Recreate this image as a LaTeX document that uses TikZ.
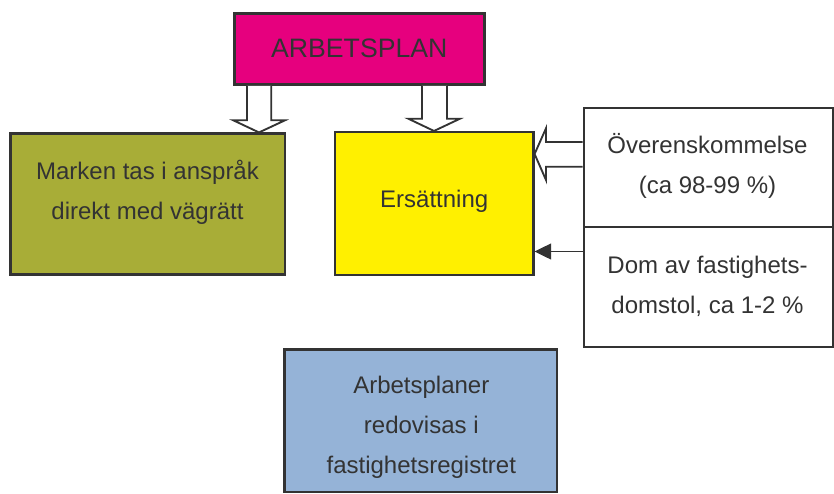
\documentclass[tikz,border=0pt]{standalone}
\usepackage{fontspec}
\setmainfont{Liberation Sans}
\usetikzlibrary{arrows.meta,calc}
\definecolor{edge}{HTML}{333333}
\definecolor{txt}{HTML}{333333}
\definecolor{magentabox}{HTML}{E6007E}
\definecolor{olivebox}{HTML}{A8AD37}
\definecolor{yellowbox}{HTML}{FFF000}
\definecolor{bluebox}{HTML}{95B3D7}
\tikzset{
  box/.style={draw=edge, line width=1.6pt, rectangle, inner sep=0pt},
  lbl/.style={text=txt, align=center, inner sep=0pt, font=\fontsize{18}{30}\selectfont},
  blockarrow/.style={draw=edge, fill=white, line width=1.4pt, line join=miter},
  thinarrow/.style={draw=edge, line width=1.25pt, -{Triangle[length=12.5pt,width=12pt]}}
}
\begin{document}
\begin{tikzpicture}[x=0.75pt,y=-0.75pt]
\useasboundingbox (0,0) rectangle (834,493);
% boxes
\node[box, line width=2.4pt, fill=magentabox, minimum width=187.5pt, minimum height=53.25pt,
      text=txt, font=\fontsize{20}{24}\selectfont] (arbetsplan) at (359.3,48.8) {ARBETSPLAN};
\node[box, fill=olivebox, minimum width=205.65pt, minimum height=105.75pt] (marken) at (147.6,204) {};
\node[box, fill=yellowbox, minimum width=149.1pt, minimum height=106.9pt] (ersattning) at (434.1,203.3) {};
\node[box, fill=white, minimum width=186.8pt, minimum height=89.2pt] (overens) at (708.25,167.75) {};
\node[box, fill=white, minimum width=186.8pt, minimum height=90pt] (dom) at (708.25,287.2) {};
\node[box, fill=bluebox, minimum width=204.2pt, minimum height=106.7pt] (arbetsplaner) at (420.65,420.65) {};
% texts
\node[lbl] (tmarken) at (147.5,191) {\strut Marken tas i anspråk\\\strut direkt med vägrätt};
\node[lbl] (tersattning) at (434.2,199.7) {\strut Ersättning};
\node[lbl] (toverens) at (707.5,165) {\strut Överenskommelse\\\strut (ca 98-99 \%)};
\node[lbl] (tdom) at (707.5,285) {\strut Dom av fastighets-\\\strut domstol, ca 1-2 \%};
\node[lbl] (tarbetsplaner) at (421.3,425.5) {\strut Arbetsplaner\\\strut redovisas i\\\strut fastighetsregistret};
% block arrows
\draw[blockarrow] (247,0 |- arbetsplan.south) -- (247,120.3) -- (233.3,120.3) -- (259,0 |- marken.north)
  -- (285,120.3) -- (271.3,120.3) -- (271.3,0 |- arbetsplan.south);
\draw[blockarrow] (422,0 |- arbetsplan.south) -- (422,118.7) -- (408.3,118.7) -- (434,0 |- ersattning.north)
  -- (460,118.7) -- (447,118.7) -- (447,0 |- arbetsplan.south);
\draw[blockarrow] (overens.west |- 0,142) -- (546,142) -- (546,128.3) -- (ersattning.east |- 0,154)
  -- (546,180) -- (546,166.7) -- (overens.west |- 0,166.7);
% thin arrow
\draw[thinarrow] (dom.west |- 0,251.5) -- (ersattning.east |- 0,251.5);
\end{tikzpicture}
\end{document}
